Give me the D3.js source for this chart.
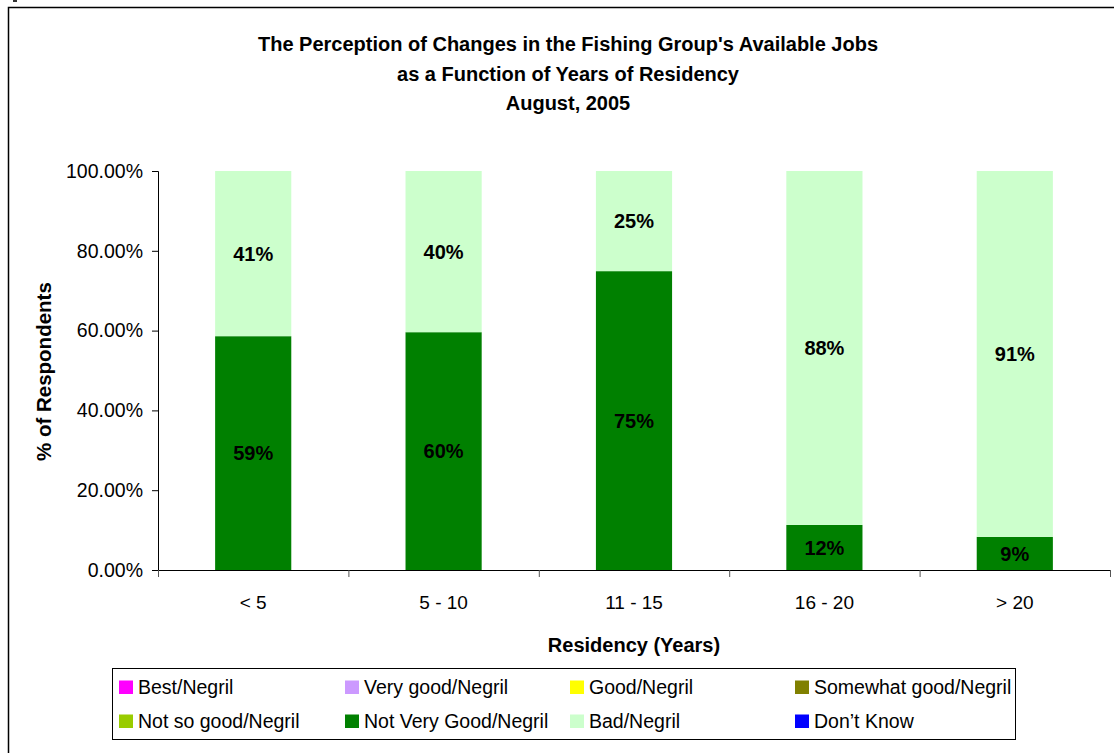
<!DOCTYPE html>
<html>
<head>
<meta charset="utf-8">
<script src="https://cdn.jsdelivr.net/npm/d3@7"></script>
<style>
	body { margin: 0; background: #fff; }
	text { font-family: "Liberation Sans", Arial, sans-serif; fill: #000; }
</style>
</head>
<body>
<script>
// Categories and series
var residency = ["< 5", "5 - 10", "11 - 15", "16 - 20", "> 20"];
var seriesNames = ["Best/Negril", "Very good/Negril", "Good/Negril", "Somewhat good/Negril",
				   "Not so good/Negril", "Not Very Good/Negril", "Bad/Negril", "Don\u2019t Know"];
var seriesColors = ["#FF00FF", "#CC99FF", "#FFFF00", "#808000",
					"#99CC00", "#008000", "#CCFFCC", "#0000FF"];

// Values (fraction of respondents)
var notVeryGood = [0.586, 0.596, 0.749, 0.113, 0.083];
var bad = [0.414, 0.404, 0.251, 0.887, 0.917];
// Printed data labels
var notVeryGoodLabels = ["59%", "60%", "75%", "12%", "9%"];
var badLabels = ["41%", "40%", "25%", "88%", "91%"];

var yTicks = [0, 0.2, 0.4, 0.6, 0.8, 1.0];
var titleLines = ["The Perception of Changes in the Fishing Group's Available Jobs",
				  "as a Function of Years of Residency",
				  "August, 2005"];

var W = 1114, H = 753;
var plot = {left: 158, right: 1110, top: 171, bottom: 570};

var svg = d3.select("body").append("svg")
		.attr("width", W)
		.attr("height", H);

// Chart frame
svg.append("rect")
	.attr("x", 8.5).attr("y", 7.5)
	.attr("width", W + 20).attr("height", H + 20)
	.attr("fill", "none")
	.attr("stroke", "#000")
	.attr("stroke-width", 1.5);
svg.append("rect")
	.attr("x", 13).attr("y", 0).attr("width", 4).attr("height", 2)
	.attr("fill", "#333");

// Title
svg.selectAll(".title")
		.data(titleLines)
	.enter().append("text")
		.attr("class", "title")
		.attr("x", 568)
		.attr("y", function(d, i) { return 51 + i * 29.5; })
		.style("text-anchor", "middle")
		.style("font-size", "20px")
		.style("font-weight", "bold")
		.text(function(d) { return d; });

// Scales
var x = d3.scaleBand()
	.domain(residency)
	.range([plot.left, plot.right])
	.paddingInner(0.6)
	.paddingOuter(0.3);
var y = d3.scaleLinear().domain([0, 1]).range([plot.bottom, plot.top]);

// Build rows and stack
var rows = residency.map(function(r, i) {
	var row = {cat: r};
	seriesNames.forEach(function(s) { row[s] = 0; });
	row["Not Very Good/Negril"] = notVeryGood[i];
	row["Bad/Negril"] = bad[i];
	return row;
});
var stacked = d3.stack().keys(seriesNames)(rows);

var layers = svg.selectAll(".layer")
		.data(stacked)
	.enter().append("g")
		.attr("class", "layer")
		.attr("fill", function(d, i) { return seriesColors[i]; });

layers.selectAll("rect")
		.data(function(d) { return d.filter(function(p) { return p[1] - p[0] > 0; }); })
	.enter().append("rect")
		.attr("x", function(d) { return x(d.data.cat); })
		.attr("width", x.bandwidth())
		.attr("y", function(d) { return y(d[1]); })
		.attr("height", function(d) { return y(d[0]) - y(d[1]); });

// Data labels
var labelSets = [
	{key: "Not Very Good/Negril", labels: notVeryGoodLabels},
	{key: "Bad/Negril", labels: badLabels}
];
labelSets.forEach(function(ls) {
	var layer = stacked.filter(function(s) { return s.key == ls.key; })[0];
	svg.selectAll(".lbl-" + ls.key.replace(/\W/g, ""))
			.data(layer)
		.enter().append("text")
			.attr("x", function(d) { return x(d.data.cat) + x.bandwidth() / 2; })
			.attr("y", function(d) { return (y(d[0]) + y(d[1])) / 2; })
			.attr("dy", "0.36em")
			.style("text-anchor", "middle")
			.style("font-size", "20px")
			.style("font-weight", "bold")
			.text(function(d, i) { return ls.labels[i]; });
});

// Y axis
var yAxis = svg.append("g")
	.attr("transform", "translate(" + plot.left + ",0)")
	.call(d3.axisLeft(y).tickValues(yTicks).tickFormat(d3.format(".2%")).tickSize(6).tickPadding(9));
yAxis.selectAll("text").style("font-size", "19.5px").attr("font-family", null);
yAxis.select(".domain").attr("stroke", "#000");

// X axis: labels
var xAxis = svg.append("g")
	.attr("transform", "translate(0," + plot.bottom + ")")
	.call(d3.axisBottom(x).tickSize(0).tickPadding(26));
xAxis.select(".domain").remove();
xAxis.selectAll("text").style("font-size", "19px").attr("font-family", null);

// X axis: line and tick marks between categories
var xEdges = d3.scaleLinear().domain([0, residency.length]).range([plot.left, plot.right]);
var xTickAxis = svg.append("g")
	.attr("transform", "translate(0," + plot.bottom + ")")
	.call(d3.axisBottom(xEdges).ticks(residency.length).tickFormat("").tickSize(7).tickSizeOuter(0));
xTickAxis.selectAll(".tick line").attr("stroke", "#555");
xTickAxis.select(".domain").attr("stroke", "#000");

// Axis titles
svg.append("text")
	.attr("transform", "translate(51,461) rotate(-90)")
	.style("text-anchor", "start")
	.style("font-size", "20.5px")
	.style("font-weight", "bold")
	.text("% of Respondents");

svg.append("text")
	.attr("x", 634)
	.attr("y", 652)
	.style("text-anchor", "middle")
	.style("font-size", "20px")
	.style("font-weight", "bold")
	.text("Residency (Years)");

// Legend
var legendCols = [119, 345, 570, 795];
var legendRows = [687, 721];
svg.append("rect")
	.attr("x", 112.5).attr("y", 668.5)
	.attr("width", 903).attr("height", 71)
	.attr("fill", "#fff")
	.attr("stroke", "#000");

var items = svg.selectAll(".legend-item")
		.data(seriesNames)
	.enter().append("g")
		.attr("class", "legend-item")
		.attr("transform", function(d, i) {
			return "translate(" + legendCols[i % 4] + "," + legendRows[Math.floor(i / 4)] + ")";
		});
items.append("rect")
	.attr("x", 0).attr("y", -6.5)
	.attr("width", 14).attr("height", 13.5)
	.attr("fill", function(d, i) { return seriesColors[i]; });
items.append("text")
	.attr("x", 19)
	.attr("dy", "0.36em")
	.style("font-size", "19.5px")
	.text(function(d) { return d; });
</script>
</body>
</html>
